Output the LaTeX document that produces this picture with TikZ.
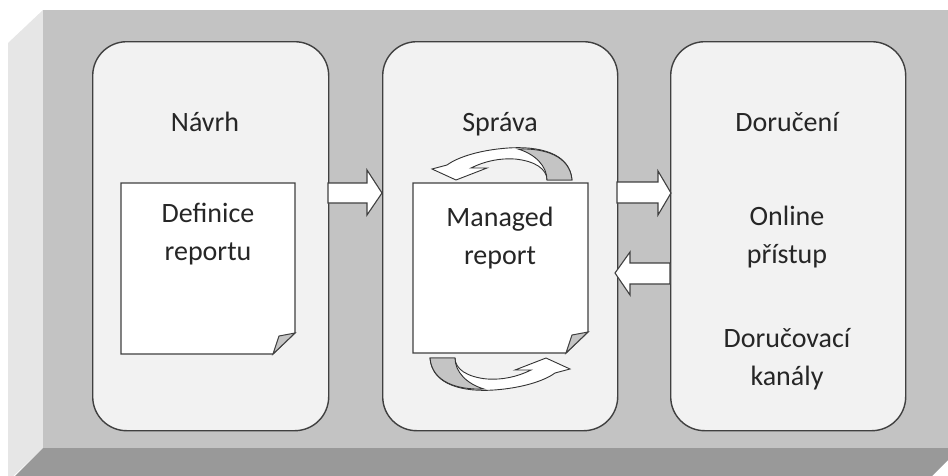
\documentclass[tikz,border=0pt]{standalone}
\usepackage{fontspec}
\setmainfont{Carlito}
\usetikzlibrary{calc}
\definecolor{frontgray}{HTML}{C3C3C3}
\definecolor{leftgray}{HTML}{E6E6E6}
\definecolor{bottomgray}{HTML}{999999}
\definecolor{panelfill}{HTML}{F2F2F2}
\definecolor{edge}{HTML}{404040}
\definecolor{txt}{HTML}{262626}
\definecolor{backside}{HTML}{C4C4C4}
\tikzset{
  panel/.style={draw=edge, line width=1.4pt, fill=panelfill, rounded corners=34pt},
  blockarrow/.style={draw=edge, line width=1.1pt, fill=white, line join=miter},
  docshape/.style={draw=edge, line width=1.1pt, fill=white},
  fold/.style={draw=edge, line width=1pt, fill=backside},
  curvedfront/.style={draw=black!80, line width=0.9pt, fill=white},
  curvedback/.style={draw=black!80, line width=0.9pt, fill=backside},
  lbl/.style={text=txt, font=\fontsize{28}{38}\selectfont, align=center, inner sep=0pt, anchor=base}
}
\begin{document}
\begin{tikzpicture}[x=1pt,y=-1pt]
\useasboundingbox (0,0) rectangle (948,475);
\clip (0,0) rectangle (948,475);
% 3D slab
\fill[leftgray] (8,43) -- (43,10) -- (43,448) -- (8,481) -- cycle;
\fill[bottomgray] (43,448) -- (960,448) -- (925,483) -- (8,483) -- cycle;
\fill[frontgray] (43,10) rectangle (960,448);
% panels
\node[panel, minimum width=236pt, minimum height=389pt, anchor=north west] (p1) at (92,41) {};
\node[panel, minimum width=235pt, minimum height=389pt, anchor=north west] (p2) at (382,41) {};
\node[panel, minimum width=235pt, minimum height=389pt, anchor=north west] (p3) at (670,41) {};
% titles
\node[lbl] (t1) at (205,131) {Návrh};
\node[lbl] (t2) at (500,131) {Správa};
\node[lbl] (t3) at (787,131) {Doručení};
% block arrows
\draw[blockarrow] (328,183) -- (367,183) -- (367,170) -- (382,193) -- (367,215) -- (367,203) -- (328,203) -- cycle;
\draw[blockarrow] (617,182) -- (658,182) -- (658,171) -- (671,193) -- (658,215) -- (658,203) -- (617,203) -- cycle;
\draw[blockarrow] (670,263) -- (630,263) -- (630,252) -- (615,273) -- (630,295) -- (630,284) -- (670,284) -- cycle;
% curved arrows (top, and the same rotated for bottom)
\foreach \rot in {0,180}{
\begin{scope}[rotate around={\rot:(501,269)}]
\draw[curvedfront] (572,180) .. controls (570,152) and (537,146) .. (508,148)
   .. controls (480,150) and (458,157) .. (447,165) -- (432,169) -- (456,180) -- (487,168) -- (471,168)
   .. controls (485,161) and (500,158) .. (515,159) .. controls (535,161) and (547,169) .. (547,180) -- cycle;
\draw[curvedback] (572,180) .. controls (570,156) and (545,148) .. (518,149)
   .. controls (535,154) and (547,166) .. (547,180) -- cycle;
\end{scope}
}
% documents
\draw[docshape] (121,183) -- (295,183) -- (295,333) -- (273,354) -- (121,354) -- cycle;
\draw[fold] (273,354) -- (279,336) -- (295,333) -- cycle;
\draw[docshape] (413,183) -- (588,183) -- (588,332) -- (566,353) -- (413,353) -- cycle;
\draw[fold] (566,353) -- (572,335) -- (588,332) -- cycle;
% labels (anchor base = baseline of the last line)
\node[lbl] (l1) at (208,260) {Definice\\reportu};
\node[lbl] (l2) at (500,264) {Managed\\report};
\node[lbl] (l3) at (787,263) {Online\\přístup};
\node[lbl] (l4) at (787,385) {Doručovací\\kanály};
\end{tikzpicture}
\end{document}
